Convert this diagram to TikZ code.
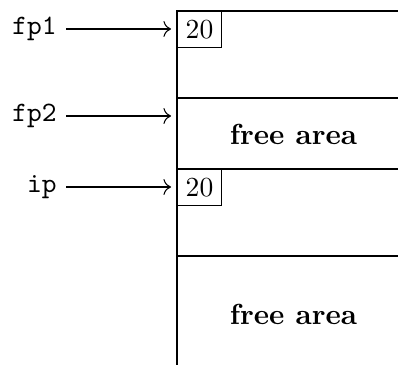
\documentclass[tikz,border=0pt]{standalone}
\usetikzlibrary{arrows.meta}
\begin{document}
\begin{tikzpicture}[x={(0.3774pt,0)},y={(0,-0.3774pt)},
  lbl/.style={anchor=east,font=\fontsize{10.6}{13}\ttfamily},
  valbox/.style={draw,anchor=north west,minimum width=16.6pt,minimum height=13.6pt,inner sep=0pt,font=\fontsize{10.4}{12}\selectfont},
  ptr/.style={-{To[scale=1.15]}},
  area/.style={font=\fontsize{10.95}{13}\selectfont\bfseries}]
\useasboundingbox (0,0) rectangle (398,365);
% memory column
\draw (177,365) -- (177,11) -- (398,11);
\draw (177,98) -- (398,98);
\draw (177,169) -- (398,169);
\draw (177,256) -- (398,256);
\node[valbox] (b1) at (177,11) {20};
\node[valbox] (b2) at (177,169) {20};
\node[area] (fa1) at (293.5,134) {free area};
\node[area] (fa2) at (293.5,314) {free area};
% pointers
\node[lbl] (fp1) at (66,29) {fp1};
\node[lbl] (fp2) at (66,116) {fp2};
\node[lbl] (ip) at (66,187) {ip};
\coordinate (t1) at (171,29);
\coordinate (t2) at (171,116);
\coordinate (t3) at (171,187);
\draw[ptr] (fp1.east) -- (t1);
\draw[ptr] (fp2.east) -- (t2);
\draw[ptr] (ip.east) -- (t3);
\end{tikzpicture}
\end{document}
